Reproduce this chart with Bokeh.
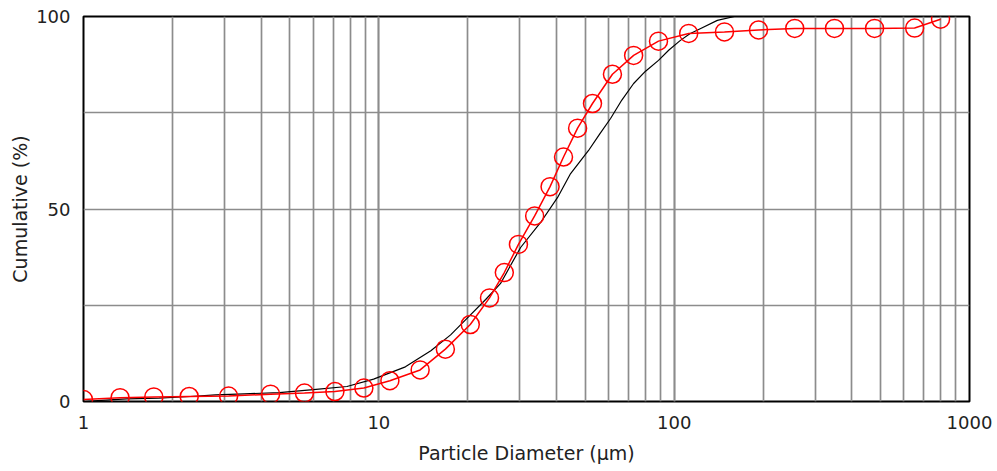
from bokeh.plotting import figure
from bokeh.models import FixedTicker, LogTicker, Range1d, CustomJSTickFormatter
from bokeh.embed import file_html
from bokeh.resources import INLINE

# Measured (red, circles)
meas_x = [1.0, 1.33, 1.73, 2.28, 3.1, 4.3, 5.6, 7.1, 8.9, 10.9, 13.8, 16.8, 20.4,
          23.7, 26.6, 29.7, 33.7, 38.0, 42.2, 47.1, 52.9, 61.8, 72.9, 88.5, 112,
          148, 193, 256, 349, 477, 652, 798]
meas_y = [0.5, 1.0, 1.2, 1.3, 1.4, 1.9, 2.2, 2.6, 3.5, 5.4, 8.2, 13.6, 20.0,
          26.9, 33.5, 40.8, 48.2, 55.8, 63.5, 71.0, 77.4, 85.0, 89.9, 93.6, 95.6,
          96.0, 96.5, 96.9, 96.9, 96.9, 97.0, 99.3]

# Reference (black line)
ref_x = [1.0, 1.15, 1.4, 1.8, 2.3, 2.8, 3.5, 4.6, 6.0, 7.8, 9.6, 12.3, 15.0,
         17.5, 20.0, 23.0, 25.8, 30.2, 35.3, 40.3, 44.6, 51.3, 56.0, 60.9, 66.5,
         72.9, 80.0, 88.5, 96.0, 105, 113, 123, 140, 160]
ref_y = [0.0, 0.3, 0.7, 0.9, 1.3, 1.7, 2.0, 2.3, 3.1, 3.9, 5.8, 9.0, 13.2,
         17.3, 21.8, 26.5, 30.6, 40.0, 46.5, 53.0, 59.2, 65.2, 69.5, 73.5, 78.3,
         82.6, 85.8, 88.6, 91.3, 93.8, 95.5, 96.9, 99.0, 100.0]

y_ticks = [0, 50, 100]
y_minor = [25, 75]

p = figure(width=997, height=471, x_axis_type="log",
           x_range=Range1d(1, 1000), y_range=Range1d(0, 100),
           output_backend="svg", toolbar_location=None,
           min_border_left=83, min_border_right=28, min_border_top=16,
           min_border_bottom=70)

p.background_fill_color = "white"
p.border_fill_color = "white"
p.outline_line_color = "black"
p.outline_line_width = 2

p.xaxis.ticker = LogTicker(num_minor_ticks=10)
p.xaxis.formatter = CustomJSTickFormatter(code="return String(Math.round(tick));")
p.yaxis.ticker = FixedTicker(ticks=y_ticks, minor_ticks=y_minor)

for g in (p.xgrid, p.ygrid):
    g.grid_line_color = "#8c8c8c"
    g.grid_line_width = 1.7
    g.minor_grid_line_color = "#8c8c8c"
    g.minor_grid_line_width = 1.7

for ax in (p.xaxis, p.yaxis):
    ax.axis_line_color = None
    ax.major_tick_line_color = None
    ax.minor_tick_line_color = None
    ax.major_label_text_font = "DejaVu Sans"
    ax.major_label_text_font_size = "18px"
    ax.major_label_text_color = "#222222"
    ax.axis_label_text_font = "DejaVu Sans"
    ax.axis_label_text_font_size = "19px"
    ax.axis_label_text_font_style = "normal"
    ax.axis_label_text_color = "#222222"

p.xaxis.axis_label = "Particle Diameter (µm)"
p.yaxis.axis_label = "Cumulative (%)"
p.xaxis.major_label_standoff = 8
p.yaxis.major_label_standoff = 7
p.xaxis.axis_label_standoff = 10
p.yaxis.axis_label_standoff = 2

p.line(ref_x, ref_y, line_color="black", line_width=1.2)
p.line(meas_x, meas_y, line_color="#ff0000", line_width=1.5)
p.scatter(meas_x, meas_y, marker="circle", size=18, fill_color=None,
          line_color="#ff0000", line_width=1.5)

open("out.html", "w").write(file_html(p, INLINE))
